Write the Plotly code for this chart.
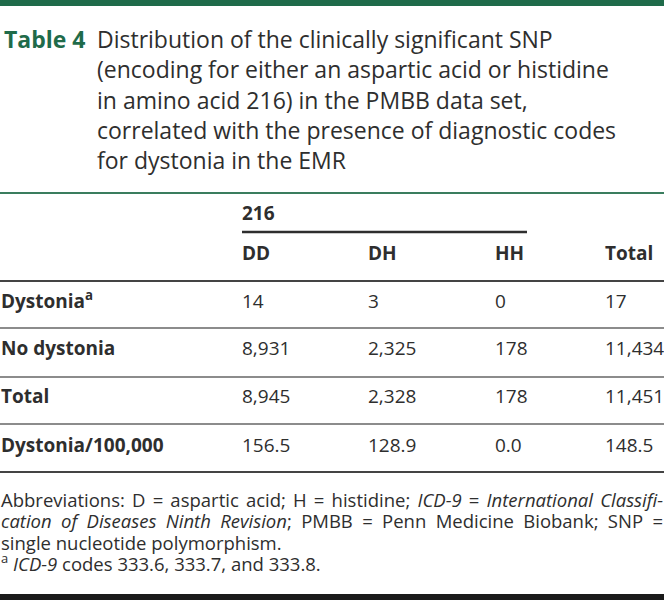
import plotly.graph_objects as go

# table content
row_labels = ["Dystonia<sup>a</sup>", "No dystonia", "Total", "Dystonia/100,000"]
col_labels = ["DD", "DH", "HH", "Total"]
dd = ["14", "8,931", "8,945", "156.5"]
dh = ["3", "2,325", "2,328", "128.9"]
hh = ["0", "178", "178", "0.0"]
total = ["17", "11,434", "11,451", "148.5"]
group_label = "216"

title_lines = [
    "Distribution of the clinically significant SNP",
    "(encoding for either an aspartic acid or histidine",
    "in amino acid 216) in the PMBB data set,",
    "correlated with the presence of diagnostic codes",
    "for dystonia in the EMR",
]
foot_lines = [
    "Abbreviations: D = aspartic acid; H = histidine; <i>ICD-9</i> = <i>International Classifi-</i>",
    "<i>cation of Diseases Ninth Revision</i>; PMBB = Penn Medicine Biobank; SNP =",
    "single nucleotide polymorphism.",
    "<sup>a</sup> <i>ICD-9</i> codes 333.6, 333.7, and 333.8.",
]

W, H = 664, 600
green = "#1f6b4a"
ink = "#2e2e2e"
font = "Open Sans"

col_x = [242, 368, 495, 605]
row_y = [303, 350, 398, 447]
head_y = 255
title_y = [42, 72, 103, 133, 163]
foot_y = [502, 523, 545, 566]

fig = go.Figure()

# title
fig.add_trace(go.Scatter(x=[4], y=[title_y[0]], mode="text", text=["<b>Table 4</b>"],
                         textposition="middle right",
                         textfont=dict(family=font, size=23, color=green)))
fig.add_trace(go.Scatter(x=[97] * len(title_lines), y=title_y, mode="text", text=title_lines,
                         textposition="middle right",
                         textfont=dict(family=font, size=23, color=ink)))

# header
fig.add_trace(go.Scatter(x=[col_x[0]], y=[215], mode="text", text=["<b>" + group_label + "</b>"],
                         textposition="middle right",
                         textfont=dict(family=font, size=19, color=ink)))
fig.add_trace(go.Scatter(x=col_x, y=[head_y] * 4, mode="text",
                         text=["<b>" + c + "</b>" for c in col_labels],
                         textposition="middle right",
                         textfont=dict(family=font, size=19, color=ink)))

# body
fig.add_trace(go.Scatter(x=[1] * 4, y=row_y, mode="text",
                         text=["<b>" + r + "</b>" for r in row_labels],
                         textposition="middle right",
                         textfont=dict(family=font, size=19, color=ink)))
for cx, vals in zip(col_x, [dd, dh, hh, total]):
    fig.add_trace(go.Scatter(x=[cx] * 4, y=row_y, mode="text", text=vals,
                             textposition="middle right",
                             textfont=dict(family=font, size=19, color=ink)))

# footnotes
fig.add_trace(go.Scatter(x=[1] * len(foot_lines), y=foot_y, mode="text", text=foot_lines,
                         textposition="middle right",
                         textfont=dict(family=font, size=18.5, color=ink)))

shapes = [
    dict(type="rect", x0=0, x1=W, y0=0, y1=6, fillcolor=green, line_width=0),
    dict(type="line", x0=0, x1=W, y0=193, y1=193, line=dict(color="#3a7d5e", width=2)),
    dict(type="line", x0=242, x1=527, y0=232, y1=232, line=dict(color=ink, width=2.5)),
    dict(type="line", x0=0, x1=W, y0=281, y1=281, line=dict(color="#444", width=2)),
    dict(type="line", x0=0, x1=W, y0=328, y1=328, line=dict(color="#666", width=1.5)),
    dict(type="line", x0=0, x1=W, y0=377, y1=377, line=dict(color="#666", width=1.5)),
    dict(type="line", x0=0, x1=W, y0=424, y1=424, line=dict(color="#666", width=1.5)),
    dict(type="line", x0=0, x1=W, y0=472, y1=472, line=dict(color="#444", width=2)),
    dict(type="rect", x0=0, x1=W, y0=594, y1=600, fillcolor="#1a1a1a", line_width=0),
]

fig.update_layout(
    width=W, height=H, margin=dict(l=0, r=0, t=0, b=0),
    paper_bgcolor="white", plot_bgcolor="white", showlegend=False,
    shapes=shapes, hovermode=False,
    xaxis=dict(range=[0, W], visible=False, fixedrange=True),
    yaxis=dict(range=[H, 0], visible=False, fixedrange=True),
)

# drop the page margin and justify the first two footnote lines
post = """
document.body.style.margin = '0';
var gd = document.getElementById('{plot_id}');
gd.querySelectorAll('g.textpoint text').forEach(function (t) {
    var s = t.textContent;
    if (s.indexOf('Abbreviations') === 0 || s.indexOf('cation of') === 0) {
        t.style.wordSpacing = '0px';
        var x = t.getBBox().x;
        var len = t.getComputedTextLength();
        var n = (s.match(/ /g) || []).length;
        t.style.wordSpacing = ((663 - x - len) / n) + 'px';
    }
});
"""
fig.write_html("out.html", post_script=post, config={"displayModeBar": False})
